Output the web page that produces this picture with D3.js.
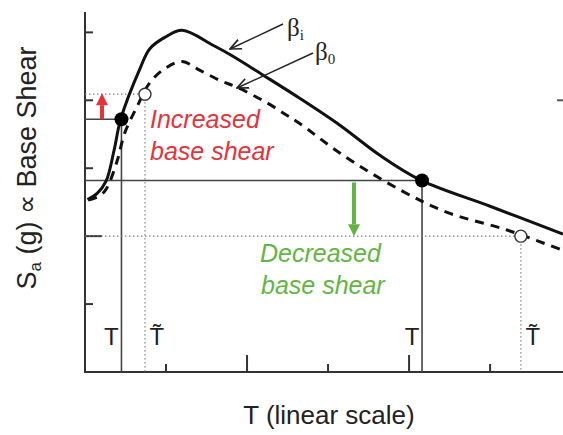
<!DOCTYPE html>
<html>
<head>
<meta charset="utf-8">
<script src="https://cdn.jsdelivr.net/npm/d3@7"></script>
<style>
  body { margin: 0; background: #fff; }
  svg { display: block; font-family: Arial, "Liberation Sans", sans-serif; }
</style>
</head>
<body>
<div id="chart"></div>
<script>
// spectrum curves, T in arbitrary units, Sa in arbitrary units
const betaI_T  = [0.03, 0.15, 0.26, 0.36, 0.44, 0.68, 0.80, 0.99, 1.20, 1.58, 1.81, 2.20, 2.65, 3.15, 3.64, 4.15, 5.00, 5.90];
const betaI_Sa = [2.54, 2.63, 2.81, 3.27, 3.72, 4.47, 4.76, 4.93, 5.03, 4.81, 4.66, 4.37, 4.03, 3.63, 3.19, 2.82, 2.44, 2.03];
const beta0_T  = [0.04, 0.19, 0.27, 0.40, 0.49, 0.64, 0.80, 0.99, 1.20, 1.42, 1.67, 1.88, 2.25, 2.49, 2.65, 3.15, 3.89, 4.47, 5.21, 5.90];
const beta0_Sa = [2.53, 2.60, 2.71, 3.12, 3.52, 3.90, 4.26, 4.47, 4.57, 4.44, 4.29, 4.19, 3.96, 3.78, 3.66, 3.22, 2.68, 2.35, 2.09, 1.79];

// design points: period and spectral acceleration
const pointT   = [0.45, 4.16];
const pointSa  = [3.72, 2.82];
const tildeT   = [0.74, 5.38];
const tildeSa  = [4.09, 2.00];

const xTicks = [1, 2, 3, 4, 5];
const yTicks = [1, 2, 3, 4, 5];

const width = 563, height = 435;
const svg = d3.select("#chart").append("svg")
    .attr("width", width)
    .attr("height", height);

const x = d3.scaleLinear().domain([0, 5.9]).range([85, 563]);
const y = d3.scaleLinear().domain([0, 5.3]).range([372, 12]);

const red = "#e5323b", green = "#62b543";

// axes
svg.append("line").attr("x1", x(0)).attr("x2", x(0)).attr("y1", y(5.3)).attr("y2", y(0))
    .attr("stroke", "#333").attr("stroke-width", 2);
svg.append("line").attr("x1", x(0) - 1).attr("x2", width).attr("y1", y(0)).attr("y2", y(0))
    .attr("stroke", "#333").attr("stroke-width", 2);

svg.selectAll(".xtick").data(xTicks).enter().append("line")
    .attr("x1", d => x(d)).attr("x2", d => x(d))
    .attr("y1", y(0)).attr("y2", d => y(0) - (d % 2 === 0 ? 17 : 8))
    .attr("stroke", "#333").attr("stroke-width", 2);
svg.selectAll(".ytick").data(yTicks).enter().append("line")
    .attr("x1", x(0)).attr("x2", d => x(0) + (d === 2 ? 17 : 8))
    .attr("y1", d => y(d)).attr("y2", d => y(d))
    .attr("stroke", "#333").attr("stroke-width", 2);
// right edge tick
svg.append("line").attr("x1", width - 6).attr("x2", width).attr("y1", y(4)).attr("y2", y(4))
    .attr("stroke", "#555").attr("stroke-width", 2);

// guide lines
const dotted = "1.4,2.6";
pointT.forEach((t, i) => {
  svg.append("line").attr("x1", x(0)).attr("x2", x(t)).attr("y1", y(pointSa[i])).attr("y2", y(pointSa[i]))
      .attr("stroke", "#444").attr("stroke-width", 1.6);
  svg.append("line").attr("x1", x(t)).attr("x2", x(t)).attr("y1", y(pointSa[i])).attr("y2", y(0))
      .attr("stroke", "#444").attr("stroke-width", 1.6);
});
tildeT.forEach((t, i) => {
  svg.append("line").attr("x1", x(0)).attr("x2", x(t)).attr("y1", y(tildeSa[i])).attr("y2", y(tildeSa[i]))
      .attr("stroke", "#777").attr("stroke-width", 1.3).attr("stroke-dasharray", dotted);
  svg.append("line").attr("x1", x(t)).attr("x2", x(t)).attr("y1", y(tildeSa[i])).attr("y2", y(0))
      .attr("stroke", "#777").attr("stroke-width", 1.3).attr("stroke-dasharray", dotted);
});

// curves
const line = d3.line().x(d => x(d[0])).y(d => y(d[1])).curve(d3.curveCatmullRom.alpha(0.5));
svg.append("path").datum(d3.zip(beta0_T, beta0_Sa)).attr("d", line)
    .attr("fill", "none").attr("stroke", "#111").attr("stroke-width", 3)
    .attr("stroke-dasharray", "9,7");
svg.append("path").datum(d3.zip(betaI_T, betaI_Sa)).attr("d", line)
    .attr("fill", "none").attr("stroke", "#111").attr("stroke-width", 3);

// markers
svg.selectAll(".pt").data(d3.zip(pointT, pointSa)).enter().append("circle")
    .attr("cx", d => x(d[0])).attr("cy", d => y(d[1])).attr("r", 7).attr("fill", "#000");
svg.selectAll(".tpt").data(d3.zip(tildeT, tildeSa)).enter().append("circle")
    .attr("cx", d => x(d[0])).attr("cy", d => y(d[1])).attr("r", 6)
    .attr("fill", "#fff").attr("stroke", "#333").attr("stroke-width", 1.4);

// T labels
pointT.forEach(t => {
  svg.append("text").attr("x", x(t) - 10).attr("y", 345).attr("text-anchor", "middle")
      .attr("font-size", 24).attr("fill", "#222").text("T");
});
tildeT.forEach(t => {
  svg.append("text").attr("x", x(t) + 12).attr("y", 345).attr("text-anchor", "middle")
      .attr("font-size", 24).attr("fill", "#222").text("T\u0303");
});

// red and green arrows
function blockArrow(xc, yFrom, yTo, color) {
  const dir = yTo < yFrom ? -1 : 1;
  const head = 12;
  svg.append("line").attr("x1", xc).attr("x2", xc).attr("y1", yFrom).attr("y2", yTo - dir * head)
      .attr("stroke", color).attr("stroke-width", 4);
  svg.append("path")
      .attr("d", `M${xc - 6},${yTo - dir * head} L${xc + 6},${yTo - dir * head} L${xc},${yTo} Z`)
      .attr("fill", color);
}
blockArrow(102, y(pointSa[0]), y(tildeSa[0]) - 1, red);
blockArrow(354, y(pointSa[1]) + 2, y(tildeSa[1]), green);

// annotation text
const inc = svg.append("text").attr("font-size", 25).attr("font-style", "italic").attr("fill", red);
inc.append("tspan").attr("x", 150).attr("y", 128).text("Increased");
inc.append("tspan").attr("x", 150).attr("y", 160).text("base shear");
const dec = svg.append("text").attr("font-size", 25).attr("font-style", "italic").attr("fill", green);
dec.append("tspan").attr("x", 260).attr("y", 262).text("Decreased");
dec.append("tspan").attr("x", 261).attr("y", 294).text("base shear");

// beta labels with pointer arrows
svg.append("defs").append("marker").attr("id", "tip")
    .attr("viewBox", "0 0 10 10").attr("refX", 9).attr("refY", 5)
    .attr("markerWidth", 9).attr("markerHeight", 9).attr("orient", "auto")
    .append("path").attr("d", "M0,1 L9,5 L0,9").attr("fill", "none").attr("stroke", "#222").attr("stroke-width", 1.3);
svg.append("line").attr("x1", 283).attr("y1", 24).attr("x2", 230).attr("y2", 49)
    .attr("stroke", "#222").attr("stroke-width", 1.4).attr("marker-end", "url(#tip)");
svg.append("line").attr("x1", 313).attr("y1", 53).attr("x2", 237).attr("y2", 88)
    .attr("stroke", "#222").attr("stroke-width", 1.4).attr("marker-end", "url(#tip)");

const bi = svg.append("text").attr("x", 287).attr("y", 36)
    .attr("font-family", "'Liberation Serif', 'DejaVu Serif', serif").attr("font-size", 25).attr("fill", "#222");
bi.append("tspan").text("β");
bi.append("tspan").attr("font-size", 15).attr("dy", 4).text("i");
const b0 = svg.append("text").attr("x", 315).attr("y", 60)
    .attr("font-family", "'Liberation Serif', 'DejaVu Serif', serif").attr("font-size", 25).attr("fill", "#222");
b0.append("tspan").text("β");
b0.append("tspan").attr("font-size", 15).attr("dy", 4).text("0");

// axis titles
svg.append("text").attr("x", 329).attr("y", 424).attr("text-anchor", "middle")
    .attr("font-size", 26).attr("fill", "#222").text("T (linear scale)");
const yl = svg.append("text").attr("transform", "translate(36,168) rotate(-90)")
    .attr("text-anchor", "middle").attr("font-size", 27).attr("fill", "#222");
yl.append("tspan").text("S");
yl.append("tspan").attr("font-size", 17).attr("dy", 5).text("a");
yl.append("tspan").attr("dy", -5).text(" (g) ∝ Base Shear");
</script>
</body>
</html>
